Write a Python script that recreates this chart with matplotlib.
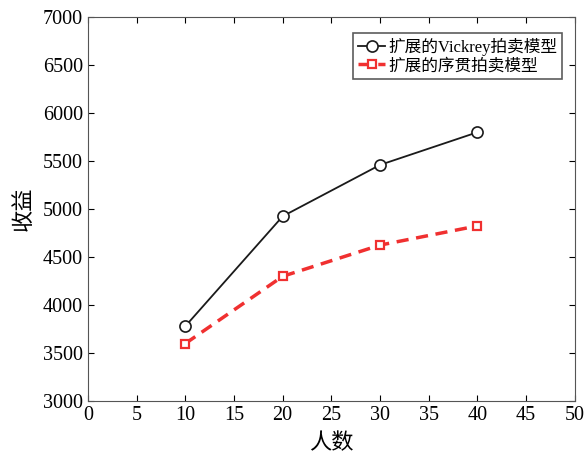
import matplotlib
matplotlib.use("Agg")
import matplotlib.pyplot as plt

plt.rcParams['font.family'] = ['Liberation Serif', 'Noto Sans CJK SC']

people = [10, 20, 30, 40]
vickrey_rev = [3780, 4925, 5460, 5800]
seq_rev = [3600, 4300, 4625, 4825]

fig = plt.figure(figsize=(5.86, 4.59), dpi=100)
ax = fig.add_axes([0.150, 0.126, 0.831, 0.837])

ax.plot(people, vickrey_rev, color='#1a1a1a', lw=1.3, marker='o', ms=8,
        mfc='white', mec='#1a1a1a', mew=1.2, label='扩展的Vickrey拍卖模型')
ax.plot(people, seq_rev, color='#f03030', lw=2.5, ls=(0, (3.5, 2.2)), marker='s', ms=6,
        mfc='white', mec='#f03030', mew=1.6, label='扩展的序贯拍卖模型')

ax.set_xlim(0, 50)
ax.set_ylim(3000, 7000)
ax.set_xticks(range(0, 51, 5))
ax.set_yticks(range(3000, 7001, 500))
ax.tick_params(direction='in', top=True, right=True, labelsize=14.5, length=4)
ax.set_xlabel('人数', fontsize=16, labelpad=6)
ax.set_ylabel('收益', fontsize=16, labelpad=6)
for s in ax.spines.values():
    s.set_color('#555555')

leg = ax.legend(loc='upper right', fontsize=12, frameon=True, fancybox=False,
                handlelength=1.6, handletextpad=0.2, borderpad=0.3,
                labelspacing=0.15, borderaxespad=0.6, bbox_to_anchor=(0.995, 0.985))
leg.get_frame().set_edgecolor('#333333')
leg.get_frame().set_linewidth(1.2)

fig.savefig('out.png', dpi=100)
